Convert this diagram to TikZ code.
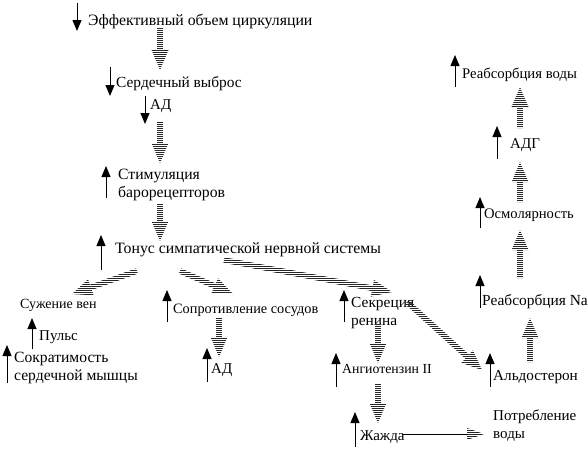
\documentclass[tikz,border=0pt]{standalone}
\usepackage{fontspec}
\setmainfont{Liberation Serif}
\usetikzlibrary{arrows.meta,calc}
\tikzset{
  lbl/.style={anchor=base west, inner sep=0pt, align=left, font=\fontsize{15}{17.5}\selectfont},
  fs/.style={font=\fontsize{#1}{17.5}\selectfont},
  ind/.style={line width=1pt, -{Triangle[length=11pt,width=9pt]}},
  stripe/.style={line width=1pt, black!85},
}
\newcommand\stri[2]{%
  \begin{scope}
    \coordinate (sb) at ($(#2)!20pt!(#1)$);
    \clip ($(#1)!2.8pt!90:(#2)$) -- ($(sb)!2.8pt!90:(#2)$) -- ($(sb)!8.5pt!90:(#2)$)
      -- (#2) -- ($(sb)!8.5pt!-90:(#2)$) -- ($(sb)!2.8pt!-90:(#2)$)
      -- ($(#1)!2.8pt!-90:(#2)$) -- cycle;
    \foreach \k in {0,...,224} \draw[stripe] (0,2*\k) -- (588,2*\k);
  \end{scope}}
\newcommand\strihead[2]{%
  \begin{scope}
    \coordinate (sb) at ($(#2)!17pt!(#1)$);
    \clip ($(sb)!6pt!90:(#2)$) -- (#2) -- ($(sb)!6pt!-90:(#2)$) -- cycle;
    \foreach \k in {0,...,224} \draw[stripe] (0,2*\k) -- (588,2*\k);
  \end{scope}}
\begin{document}
\begin{tikzpicture}[x=1pt,y=-1pt]
\useasboundingbox[fill=white] (0,0) rectangle (588,448);
% text nodes (anchor = baseline of the last line)
\node[lbl,fs=15.8] (eff) at (88,25) {Эффективный объем циркуляции};
\node[lbl,fs=15.4] (ser) at (116,87) {Сердечный выброс};
\node[lbl] (ad1) at (150,109) {АД};
\node[lbl,fs=15.7] (stim) at (118,197) {Стимуляция\\барорецепторов};
\node[lbl,fs=15.8] (ton) at (115,253) {Тонус симпатической нервной системы};
\node[lbl,fs=14] (suzh) at (20,308) {Сужение вен};
\node[lbl] (puls) at (39,340) {Пульс};
\node[lbl,fs=15.6] (sokr) at (14,380) {Сократимость\\сердечной мышцы};
\node[lbl,fs=14.3] (sopr) at (173,313) {Сопротивление сосудов};
\node[lbl] (ad2) at (211,373) {АД};
\node[lbl,font=\fontsize{15.4}{18}\selectfont] (sekr) at (351,325) {Секреция\\ренина};
\node[lbl,fs=13.8] (ang) at (342,373) {Ангиотензин II};
\node[lbl,fs=15.2] (ald) at (493,380) {Альдостерон};
\node[lbl] (zh) at (360,440) {Жажда};
\node[lbl,font=\fontsize{15}{18}\selectfont] (potr) at (493,438) {Потребление\\воды};
\node[lbl,fs=15.4] (rna) at (482,305) {Реабсорбция Na};
\node[lbl,fs=14.6] (osm) at (484,218) {Осмолярность};
\node[lbl] (adg) at (510,148) {АДГ};
\node[lbl,fs=14.7] (rw) at (462,78) {Реабсорбция воды};
% indicator arrows
\coordinate (i1a) at (77,3);   \coordinate (i1b) at (77,31);
\coordinate (i2a) at (110,67); \coordinate (i2b) at (110,96);
\coordinate (i3a) at (145,96); \coordinate (i3b) at (145,124);
\coordinate (i4a) at (106,198);\coordinate (i4b) at (106,166);
\coordinate (i5a) at (101,270);\coordinate (i5b) at (101,235);
\coordinate (i6a) at (32,349); \coordinate (i6b) at (32,318);
\coordinate (i7a) at (7,383);  \coordinate (i7b) at (7,345);
\coordinate (i8a) at (167,322);\coordinate (i8b) at (167,290);
\coordinate (i9a) at (207,382);\coordinate (i9b) at (207,348);
\coordinate (i10a) at (344,322);\coordinate (i10b) at (344,290);
\coordinate (i11a) at (336,387);\coordinate (i11b) at (336,353);
\coordinate (i12a) at (490,387);\coordinate (i12b) at (490,353);
\coordinate (i13a) at (355,447);\coordinate (i13b) at (355,412);
\coordinate (i14a) at (480,308);\coordinate (i14b) at (480,275);
\coordinate (i15a) at (480,228);\coordinate (i15b) at (480,197);
\coordinate (i16a) at (497,159);\coordinate (i16b) at (497,126);
\coordinate (i17a) at (455,87); \coordinate (i17b) at (455,55);
\foreach \i in {1,...,17} \draw[ind] (i\i a) -- (i\i b);
% striped arrows
\coordinate (s1a) at (160,28);  \coordinate (s1b) at (160,70);
\coordinate (s2a) at (160,122); \coordinate (s2b) at (160,163);
\coordinate (s3a) at (160,204); \coordinate (s3b) at (160,241);
\coordinate (s4a) at (137,271); \coordinate (s4b) at (72,294);
\coordinate (s5a) at (180,271); \coordinate (s5b) at (233,294);
\coordinate (s6a) at (224,260); \coordinate (s6b) at (392,292);
\coordinate (s7a) at (407,302); \coordinate (s7b) at (482,370);
\coordinate (s8a) at (219,317); \coordinate (s8b) at (219,357);
\coordinate (s9a) at (378,323); \coordinate (s9b) at (378,363);
\coordinate (s10a) at (378,383); \coordinate (s10b) at (378,423);
\coordinate (s11a) at (530,362); \coordinate (s11b) at (530,318);
\coordinate (s12a) at (520,278); \coordinate (s12b) at (520,230);
\coordinate (s13a) at (520,202); \coordinate (s13b) at (520,162);
\coordinate (s14a) at (520,128); \coordinate (s14b) at (520,87);
\foreach \i in {1,...,14} {\stri{s\i a}{s\i b}}
% thirst -> water intake
\coordinate (wa) at (402,434); \coordinate (wm) at (470,434); \coordinate (wb) at (484,434);
\draw[line width=0.8pt] (wa) -- (wm);
\strihead{wa}{wb}
\end{tikzpicture}
\end{document}
